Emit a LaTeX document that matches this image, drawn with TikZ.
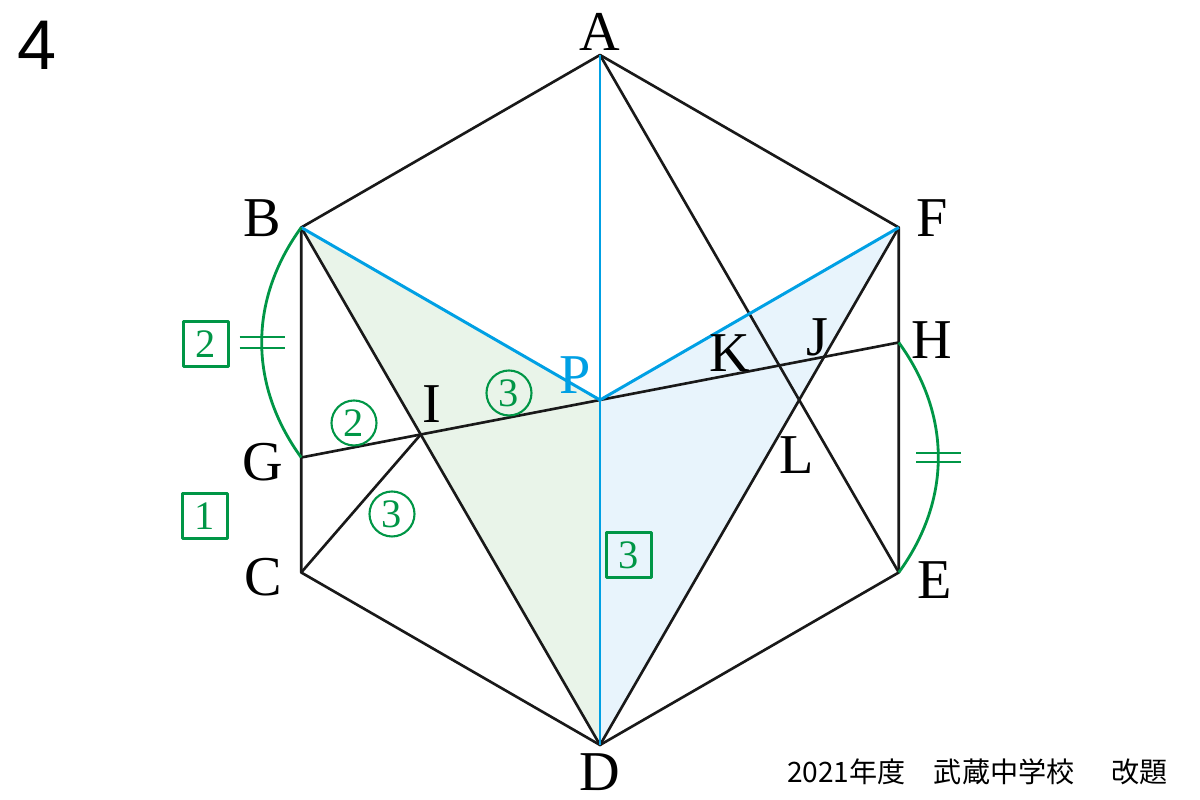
\documentclass[tikz,border=0pt]{standalone}
\usepackage{fontspec}
\setmainfont{Liberation Serif}
\newfontfamily\jpfont{Noto Sans CJK JP}
\newfontfamily\headfont{Liberation Sans}
\usetikzlibrary{calc}
\definecolor{lineblue}{RGB}{0,160,228}
\definecolor{markgreen}{RGB}{0,150,70}
\definecolor{fillgreen}{RGB}{233,244,233}
\definecolor{fillblue}{RGB}{232,244,252}
\tikzstyle{vlabel} = [text=black, inner sep=0pt, font=\fontsize{16}{19}\selectfont]
\tikzstyle{plabel} = [text=lineblue, inner sep=0pt, font=\fontsize{16}{19}\selectfont]
\tikzstyle{seg} = [black!90, line width=0.75pt]
\tikzstyle{bseg} = [lineblue, line width=0.85pt]
\tikzstyle{garc} = [markgreen, line width=0.8pt]
\tikzstyle{circnum} = [circle, draw=markgreen, text=markgreen, minimum size=0.45cm, inner sep=0pt, line width=0.6pt, font=\fontsize{11.5}{12}\selectfont]
\tikzstyle{boxnum} = [rectangle, draw=markgreen, text=markgreen, minimum size=0.45cm, inner sep=0pt, line width=0.6pt, font=\fontsize{11.5}{12}\selectfont]

\begin{document}
\begin{tikzpicture}[line join=round]
\useasboundingbox (0,0) rectangle (12,8);

% hexagon and points
\coordinate (P) at (6,4);
\coordinate (A) at ($(P)+(90:3.45)$);
\coordinate (B) at ($(P)+(150:3.45)$);
\coordinate (C) at ($(P)+(210:3.45)$);
\coordinate (D) at ($(P)+(270:3.45)$);
\coordinate (E) at ($(P)+(330:3.45)$);
\coordinate (F) at ($(P)+(30:3.45)$);
\coordinate (G) at ($(B)!2/3!(C)$);
\coordinate (H) at ($(F)!1/3!(E)$);
\coordinate (I) at (intersection of B--D and G--H);

\fill [fillgreen] (B) -- (P) -- (D) -- cycle;
\fill [fillblue] (P) -- (F) -- (D) -- cycle;

\draw [seg] (A) -- (B) -- (C) -- (D) -- (E) -- (F) -- cycle;
\draw [seg] (B) -- (D) -- (F);
\draw [seg] (A) -- (E);
\draw [seg] (G) -- (H);
\draw [seg] (I) -- (C);

\draw [bseg] (A) -- (D);
\draw [bseg] (B) -- (P) -- (F);

% equal arcs
\draw [garc] (B) to[bend right=36] coordinate[pos=0.5] (bgmid) (G);
\draw [garc] (H) to[bend left=36] coordinate[pos=0.5] (hemid) (E);
\draw [garc] ([xshift=-0.22cm,yshift=0.055cm]bgmid) -- ([xshift=0.23cm,yshift=0.055cm]bgmid);
\draw [garc] ([xshift=-0.22cm,yshift=-0.055cm]bgmid) -- ([xshift=0.23cm,yshift=-0.055cm]bgmid);
\draw [garc] ([xshift=-0.22cm,yshift=0.045cm]hemid) -- ([xshift=0.23cm,yshift=0.045cm]hemid);
\draw [garc] ([xshift=-0.22cm,yshift=-0.045cm]hemid) -- ([xshift=0.23cm,yshift=-0.045cm]hemid);

% labels
\node (la) [vlabel] at (6,7.68) {A};
\node (lb) [vlabel] at (2.62,5.82) {B};
\node (lf) [vlabel] at (9.32,5.82) {F};
\node (lh) [vlabel] at (9.32,4.6) {H};
\node (lg) [vlabel] at (2.63,3.38) {G};
\node (lc) [vlabel] at (2.63,2.23) {C};
\node (le) [vlabel] at (9.35,2.2) {E};
\node (ld) [vlabel] at (6,0.28) {D};
\node (lp) [plabel] at (5.75,4.25) {P};
\node (li) [vlabel] at (4.32,3.96) {I};
\node (lk) [vlabel] at (7.3,4.47) {K};
\node (lj) [vlabel] at (8.17,4.63) {J};
\node (ll) [vlabel] at (7.97,3.45) {L};

\node (box2) [boxnum] at (2.06,4.56) {2};
\node (box1) [boxnum] at (2.05,2.84) {1};
\node (box3) [boxnum] at (6.29,2.45) {3};
\node (gi) [circnum] at (3.54,3.77) {2};
\node (ip) [circnum] at (5.09,4.07) {3};
\node (ic) [circnum] at (3.92,2.86) {3};

\node (num) [font=\headfont\fontsize{20}{24}\selectfont, inner sep=0pt] at (0.37,7.55) {4};
\node (src) [anchor=east, inner sep=0pt, font=\jpfont\fontsize{8}{10}\selectfont] at (11.68,0.28) {2021年度\hspace{1em}武蔵中学校\hspace{1.3em}改題};

\end{tikzpicture}
\end{document}
